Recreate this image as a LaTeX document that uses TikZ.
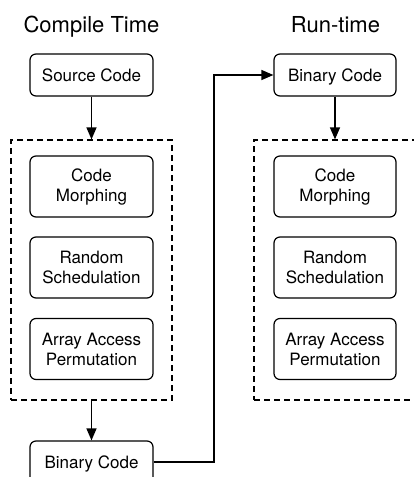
\documentclass[tikz,border=0pt]{standalone}
\usepackage{fontspec}
\setmainfont{TeX Gyre Heros}
\usetikzlibrary{arrows.meta}
\tikzset{
  box/.style={draw, line width=1.2pt, rounded corners=6pt, minimum width=123pt, align=center,
    font=\fontsize{17}{20}\selectfont, inner sep=0pt},
  onebox/.style={box, minimum height=42pt, text height=12pt, text depth=0pt},
  twobox/.style={box, minimum height=61pt},
  group/.style={draw, line width=1.2pt, dash pattern=on 6pt off 4pt, minimum width=161pt, minimum height=260pt, inner sep=0pt},
  title/.style={font=\fontsize{22}{26}\selectfont, anchor=base, inner sep=0pt},
  conn/.style={line width=1.3pt, -{Triangle[length=12pt,width=10pt]}}
}
\begin{document}
\begin{tikzpicture}[x=1pt,y=-1pt]
\useasboundingbox (0,0) rectangle (414,477);
\clip (0,0) rectangle (414,477);
% titles
\node[title] (t1) at (91.5,32.5) {Compile Time};
\node[title] (t2) at (335.5,32.5) {Run-time};
% left column
\node[onebox] (src) at (91.5,75) {Source Code};
\node[group] (gL) at (91.5,270) {};
\node[twobox] (cmL) at (91.5,186.5) {Code\\Morphing};
\node[twobox] (rsL) at (91.5,267.5) {Random\\Schedulation};
\node[twobox] (apL) at (91.5,349) {Array Access\\Permutation};
\node[onebox] (binL) at (91.5,462) {Binary Code};
% right column
\node[onebox, minimum width=122pt] (binR) at (335,75) {Binary Code};
\node[group, minimum width=162pt] (gR) at (335,270) {};
\node[twobox, minimum width=122pt] (cmR) at (335,186.5) {Code\\Morphing};
\node[twobox, minimum width=122pt] (rsR) at (335,267.5) {Random\\Schedulation};
\node[twobox, minimum width=122pt] (apR) at (335,349) {Array Access\\Permutation};
% connectors
\draw[conn] (src.south) -- (gL.north);
\draw[conn] (gL.south) -- (binL.north);
\draw[conn] (binR.south) -- (gR.north);
\coordinate (k) at (214,0);
\draw[conn] (binL.east) -| (k |- binR.west) -- (binR.west);
\end{tikzpicture}
\end{document}
